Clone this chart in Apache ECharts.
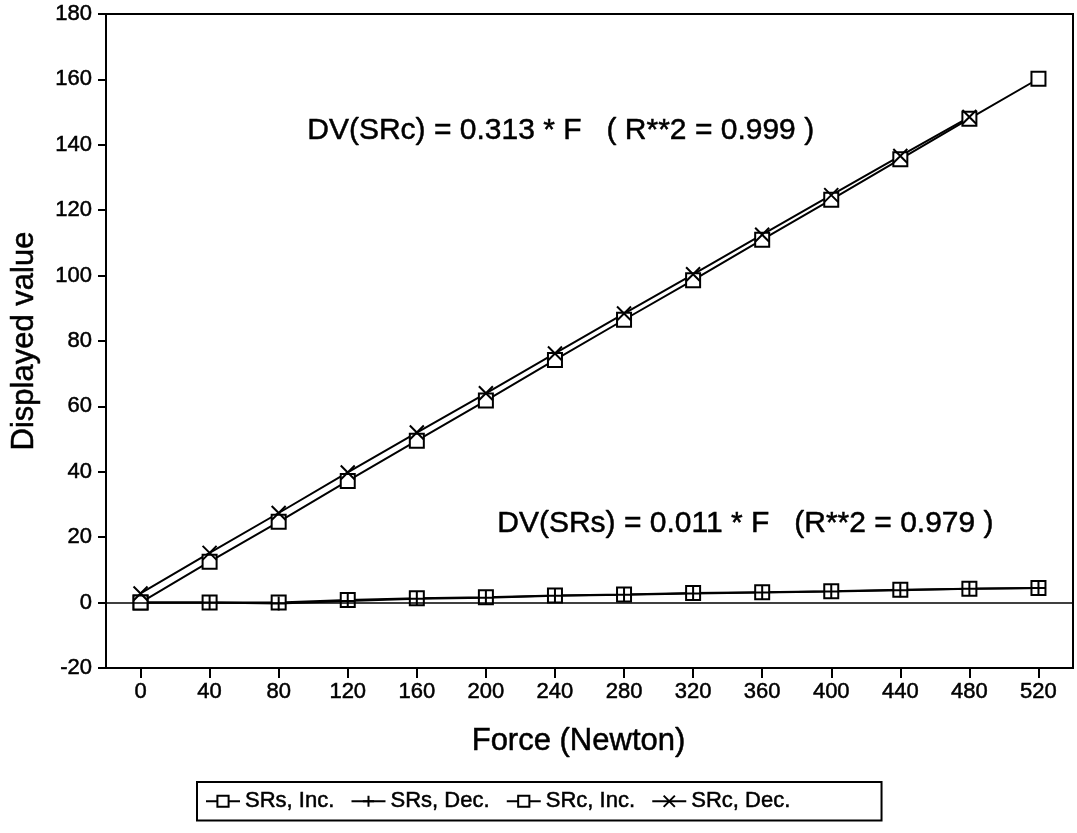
<!DOCTYPE html>
<html>
<head>
<meta charset="utf-8">
<title>Displayed value vs Force</title>
<script src="https://cdn.jsdelivr.net/npm/echarts@6/dist/echarts.min.js"></script>
<style>
  html, body { margin: 0; padding: 0; background: #fff; }
  #chart { width: 1077px; height: 833px; }
</style>
</head>
<body>
<div id="chart"></div>
<script>
// Force steps (Newton)
const forces = [0, 40, 80, 120, 160, 200, 240, 280, 320, 360, 400, 440, 480, 520];
const xTicks = [0, 40, 80, 120, 160, 200, 240, 280, 320, 360, 400, 440, 480, 520];

// Displayed values
const srsInc = [0, 0, 0, 0.8, 1.3, 1.6, 2.2, 2.5, 2.9, 3.2, 3.5, 3.9, 4.2, 4.5];
const srsDec = [0, 0, -0.3, 0.5, 1.2, 1.5, 2.1, 2.4, 2.8, 3.1, 3.4, 3.8, 4.2, 4.5];
const srcInc = [0, 12.5, 24.7, 37.2, 49.5, 61.8, 74.2, 86.5, 98.6, 111, 123.2, 135.6, 148, 160.2];
const srcDec = [2.8, 15.2, 27.4, 39.8, 52, 64, 76.2, 88.4, 100.4, 112.5, 124.6, 136.6, 148.5, null];

const fitSRc = 'DV(SRc) = 0.313 * F   ( R**2 = 0.999 )';
const fitSRs = 'DV(SRs) = 0.011 * F   (R**2 = 0.979 )';

const FONT = '"Liberation Sans", Arial, Helvetica, sans-serif';
const pair = arr => forces.map((f, i) => [f, arr[i]]);

// scanned text is a bit heavier than plain Arial
const ink = { color: '#000', fontFamily: FONT, textBorderColor: '#000', textBorderWidth: 0.5 };

const chart = echarts.init(document.getElementById('chart'));

const baseSeries = (name, values, symbol, size) => ({
  name: name,
  type: 'line',
  data: pair(values),
  symbol: symbol,
  symbolSize: size,
  showAllSymbol: true,
  connectNulls: false,
  lineStyle: { color: '#000', width: 2 },
  itemStyle: { color: '#fff', borderColor: '#000', borderWidth: 2 },
  emphasis: { disabled: true },
  animation: false,
});

const option = {
  backgroundColor: '#fff',
  textStyle: { fontFamily: FONT, color: '#000' },
  grid: {
    left: 106,
    right: 4,
    top: 14,
    bottom: 165,
    show: true,
    borderColor: '#000',
    borderWidth: 2,
    backgroundColor: 'transparent',
  },
  xAxis: {
    type: 'value',
    min: -20,
    max: 540,
    name: 'Force (Newton)',
    nameLocation: 'middle',
    nameGap: 58,
    nameTextStyle: Object.assign({ fontSize: 31, padding: [0, 22, 0, 0] }, ink),
    axisLine: { show: true, onZero: false, lineStyle: { color: '#000', width: 2 } },
    axisTick: { show: true, length: 10, lineStyle: { color: '#000', width: 2 }, customValues: xTicks },
    axisLabel: Object.assign({ fontSize: 22, margin: 13, customValues: xTicks }, ink),
    splitLine: { show: false },
  },
  yAxis: {
    type: 'value',
    min: -20,
    max: 180,
    interval: 20,
    name: 'Displayed value',
    nameLocation: 'middle',
    nameGap: 66,
    nameRotate: 90,
    nameTextStyle: Object.assign({ fontSize: 31 }, ink),
    axisLine: { show: true, onZero: false, lineStyle: { color: '#000', width: 2 } },
    axisTick: { show: true, length: 8, lineStyle: { color: '#000', width: 2 } },
    axisLabel: Object.assign({ fontSize: 22, margin: 14 }, ink),
    splitLine: { show: false },
  },
  legend: {
    left: 197,
    top: 782,
    orient: 'horizontal',
    padding: [8, 91, 8, 8],
    itemGap: 16,
    itemWidth: 34,
    itemHeight: 14,
    borderColor: '#000',
    borderWidth: 2,
    textStyle: Object.assign({ fontSize: 22 }, ink),
    data: ['SRs, Inc.', 'SRs, Dec.', 'SRc, Inc.', 'SRc, Dec.'],
    selectedMode: false,
  },
  graphic: [
    {
      type: 'text',
      left: 307,
      top: 115,
      style: { text: fitSRc, fontSize: 30, fill: '#000', fontFamily: FONT, stroke: '#000', lineWidth: 0.5 },
    },
    {
      type: 'text',
      left: 497,
      top: 508,
      style: { text: fitSRs, fontSize: 30, fill: '#000', fontFamily: FONT, stroke: '#000', lineWidth: 0.5 },
    },
  ],
  series: [
    Object.assign(baseSeries('SRs, Inc.', srsInc, 'rect', 14), {
      markLine: {
        silent: true,
        symbol: 'none',
        label: { show: false },
        lineStyle: { color: '#000', width: 1.5, type: 'solid' },
        data: [{ yAxis: 0 }],
        animation: false,
      },
    }),
    baseSeries('SRs, Dec.', srsDec, 'path://M0,5L10,5M5,0L5,10', 14),
    baseSeries('SRc, Inc.', srcInc, 'rect', 14),
    baseSeries('SRc, Dec.', srcDec, 'path://M0,0L10,10M10,0L0,10', 14),
  ],
};

chart.setOption(option);
window.addEventListener('resize', () => chart.resize());
</script>
</body>
</html>
